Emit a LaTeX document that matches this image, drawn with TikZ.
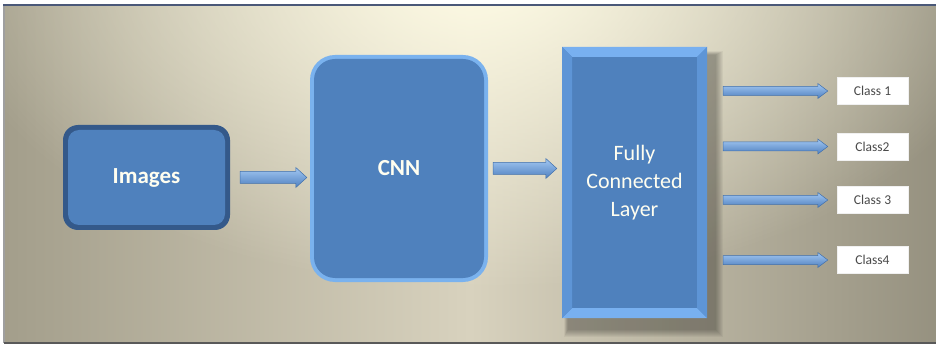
\documentclass[tikz,border=0pt]{standalone}
\usepackage{fontspec}
\setmainfont{Carlito}
\usetikzlibrary{calc,fadings,backgrounds}

\definecolor{boxblue}{HTML}{4F81BD}
\definecolor{boxdark}{HTML}{34598A}
\definecolor{rimlight}{HTML}{7AB2EE}
\definecolor{bevlight}{HTML}{78B0F0}
\definecolor{bevmid}{HTML}{5E95D6}
\definecolor{bgedge}{HTML}{A39E8B}
\definecolor{bgmid}{HTML}{D8D2BE}
\definecolor{bgtop}{HTML}{FFFCE6}
\definecolor{framebl}{HTML}{4A5878}
\definecolor{arrowtop}{HTML}{A3C8F2}
\definecolor{arrowmid}{HTML}{7DADE5}
\definecolor{arrowbot}{HTML}{4F80C0}
\definecolor{arrowline}{HTML}{4372AE}
\definecolor{classtext}{HTML}{4A4A4A}

\tikzfading[name=glowfade, inner color=transparent!0, outer color=transparent!100]

\tikzset{
  labeltext/.style={text=white!94!yellow, font=\fontsize{22}{28}\selectfont},
  imgbox/.style={labeltext, font=\bfseries\fontsize{23}{28}\selectfont,
    minimum width=167pt, minimum height=105pt, rounded corners=15pt, fill=boxdark,
    path picture={\fill[boxblue, rounded corners=11pt]
      ($(path picture bounding box.north west)+(5pt,-5pt)$) rectangle
      ($(path picture bounding box.south east)+(-5pt,5pt)$);}},
  cnnbox/.style={labeltext, font=\bfseries\fontsize{23}{28}\selectfont,
    minimum width=178pt, minimum height=227pt, rounded corners=25pt, fill=rimlight,
    path picture={\fill[boxblue, rounded corners=21pt]
      ($(path picture bounding box.north west)+(4pt,-4pt)$) rectangle
      ($(path picture bounding box.south east)+(-4pt,4pt)$);}},
  fcbox/.style={labeltext, align=center,
    minimum width=145pt, minimum height=271pt, fill=boxblue,
    path picture={
      \coordinate (bnw) at (path picture bounding box.north west);
      \coordinate (bne) at (path picture bounding box.north east);
      \coordinate (bsw) at (path picture bounding box.south west);
      \coordinate (bse) at (path picture bounding box.south east);
      \fill[bevlight] (bnw) -- (bne) -- ($(bne)+(-10pt,-10pt)$) -- ($(bnw)+(10pt,-10pt)$) -- cycle;
      \fill[bevlight] (bsw) -- (bse) -- ($(bse)+(-10pt,10pt)$) -- ($(bsw)+(10pt,10pt)$) -- cycle;
      \fill[bevmid] (bnw) -- (bsw) -- ($(bsw)+(10pt,10pt)$) -- ($(bnw)+(10pt,-10pt)$) -- cycle;
      \fill[bevmid] (bne) -- (bse) -- ($(bse)+(-10pt,10pt)$) -- ($(bne)+(-10pt,-10pt)$) -- cycle;}},
  classbox/.style={fill=white, draw=white!88!gray, line width=0.4pt,
    minimum width=71pt, minimum height=27pt, text=classtext,
    font=\fontsize{13.5}{15}\selectfont},
  arrowshade/.style={top color=arrowtop, middle color=arrowmid, bottom color=arrowbot,
    draw=arrowline, line width=0.5pt, line join=miter},
  arrowshadow/.style={fill=black, opacity=0.12}
}

% #1 start point, #2 end point (its y is used), #3 half shaft, #4 half head, #5 head length
\newcommand\fatarrowpath[5]{%
  let \p1=#1, \p2=#2 in
    (\x1,{\y2+#3}) -- ({\x2-#5},{\y2+#3}) -- ({\x2-#5},{\y2+#4}) -- (\x2,\y2)
    -- ({\x2-#5},{\y2-#4}) -- ({\x2-#5},{\y2-#3}) -- (\x1,{\y2-#3}) -- cycle}
\newcommand\fatarrow[5]{%
  \fill[arrowshadow, yshift=-2.5pt, xshift=0.5pt] \fatarrowpath{#1}{#2}{#3}{#4}{#5};
  \shadedraw[arrowshade] \fatarrowpath{#1}{#2}{#3}{#4}{#5};}

\begin{document}
\begin{tikzpicture}[x=1pt, y=-1pt]
  \useasboundingbox (0,0) rectangle (936,347);

  % backdrop panel
  \begin{scope}[on background layer]
    \fill[white] (0,0) rectangle (936,347);
    \shade[left color=bgedge, right color=bgedge!92!black, middle color=bgmid]
      (4,5) rectangle (936,343);
    \begin{scope}
      \clip (4,5) rectangle (936,343);
      \fill[bgtop, path fading=glowfade] (480,-30) ellipse [x radius=540, y radius=320];
    \end{scope}
    \draw[gray!75, line width=1.2pt] (4,5) -- (4,343);
    \draw[gray!70!black, line width=1.5pt] (4,343) -- (936,343);
    \draw[framebl, line width=2.6pt] (3,5) -- (936,5);
  \end{scope}

  % blocks
  \node[imgbox] (img) at (146.5,177.5) {Images};
  \node[cnnbox] (cnn) at (399,168.5) {CNN};
  \node[fcbox] (fc) at (634.5,182.5) {Fully\\Connected\\Layer};

  % soft shadow of the fully connected block
  \begin{scope}[on background layer]
    \foreach \i in {0,...,7} {
      \fill[black, opacity=0.045]
        ($(fc.north west)+(6pt-\i pt/2,-8pt+\i pt/2)$) rectangle
        ($(fc.south east)+(9pt+\i pt,-12pt-\i pt)$);
    }
  \end{scope}

  % output classes
  \node[classbox] (c1) at (872.5,91) {Class 1};
  \node[classbox] (c2) at (872.5,146.5) {Class2};
  \node[classbox] (c3) at (872.5,200) {Class 3};
  \node[classbox] (c4) at (872.5,260) {Class4};

  % connectors
  \fatarrow{($(img.east)+(10pt,0)$)}{($(img.east -| cnn.west)+(-3pt,0)$)}{6pt}{10pt}{11pt}
  \fatarrow{($(cnn.east)+(5pt,0)$)}{($(cnn.east -| fc.west)+(-5pt,0)$)}{6pt}{10pt}{11pt}
  \foreach \c in {c1,c2,c3,c4} {
    \fatarrow{($(fc.east |- \c.west)+(16pt,0)$)}{($(\c.west)+(-9pt,0)$)}{4.5pt}{7.5pt}{10pt}
  }
\end{tikzpicture}
\end{document}
